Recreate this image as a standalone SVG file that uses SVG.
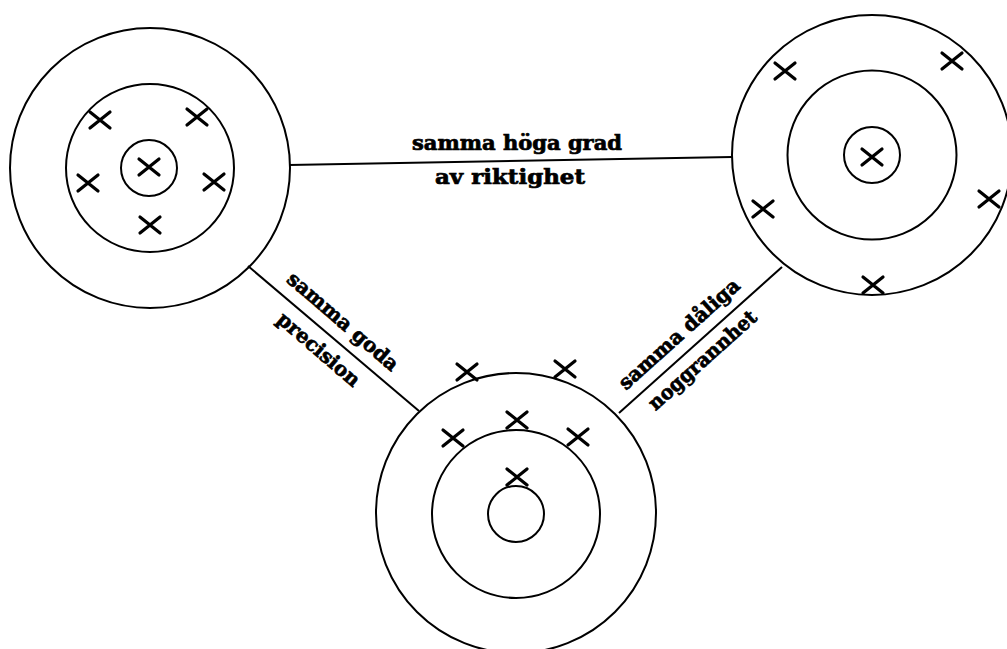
<svg xmlns="http://www.w3.org/2000/svg" xmlns:xlink="http://www.w3.org/1999/xlink" width="1007" height="649" viewBox="0 0 1007 649">
<style>
.ring{fill:none;stroke:#000;stroke-width:2}
.conn{stroke:#000;stroke-width:2;fill:none}
.lbl{font-family:"DejaVu Serif","Liberation Serif",serif;font-weight:bold;font-size:20px;fill:#000;stroke:#000;stroke-width:0.7;text-anchor:middle}
</style>
<defs>
<path id="x" d="M-10,-8 L10,8 M-10,8 L10,-8" stroke="#000" stroke-width="3.2" stroke-linecap="round" fill="none"/>
</defs>
<rect width="1007" height="649" fill="#fff"/>
<g id="connectors">
<line class="conn" x1="289" y1="165" x2="732" y2="157"/>
<line class="conn" x1="248" y1="266" x2="419" y2="411"/>
<line class="conn" x1="619" y1="413" x2="782" y2="267"/>
</g>
<g id="labels">
<text class="lbl" x="517" y="150" textLength="210" lengthAdjust="spacingAndGlyphs">samma höga grad</text>
<text class="lbl" x="510" y="184" textLength="150" lengthAdjust="spacingAndGlyphs">av riktighet</text>
<g transform="translate(330,336.4) rotate(40.7)">
<text class="lbl" x="0" y="-13" textLength="140" lengthAdjust="spacingAndGlyphs">samma goda</text>
<text class="lbl" x="0" y="24" textLength="102" lengthAdjust="spacingAndGlyphs">precision</text>
</g>
<g transform="translate(691.6,348) rotate(-41.9)">
<text class="lbl" x="0" y="-12" textLength="155" lengthAdjust="spacingAndGlyphs">samma dåliga</text>
<text class="lbl" x="0" y="23" textLength="138" lengthAdjust="spacingAndGlyphs">noggrannhet</text>
</g>
</g>
<g id="target-top-left">
<circle class="ring" cx="150" cy="168" r="140"/>
<circle class="ring" cx="150" cy="168" r="84"/>
<circle class="ring" cx="149" cy="168" r="28"/>
<use xlink:href="#x" x="149" y="167"/>
<use xlink:href="#x" x="100" y="120"/>
<use xlink:href="#x" x="197" y="117"/>
<use xlink:href="#x" x="88" y="183"/>
<use xlink:href="#x" x="214" y="182"/>
<use xlink:href="#x" x="150" y="225"/>
</g>
<g id="target-top-right">
<circle class="ring" cx="872" cy="155" r="140"/>
<circle class="ring" cx="872" cy="155" r="84.5"/>
<circle class="ring" cx="872" cy="155" r="28"/>
<use xlink:href="#x" x="872" y="157"/>
<use xlink:href="#x" x="785" y="71"/>
<use xlink:href="#x" x="952" y="61"/>
<use xlink:href="#x" x="763" y="209"/>
<use xlink:href="#x" x="989" y="199"/>
<use xlink:href="#x" x="873" y="285"/>
</g>
<g id="target-bottom">
<circle class="ring" cx="516" cy="513" r="140"/>
<circle class="ring" cx="516" cy="514" r="84"/>
<circle class="ring" cx="516" cy="514" r="28"/>
<use xlink:href="#x" x="467" y="372"/>
<use xlink:href="#x" x="565" y="369"/>
<use xlink:href="#x" x="517" y="420"/>
<use xlink:href="#x" x="453" y="438"/>
<use xlink:href="#x" x="578" y="437"/>
<use xlink:href="#x" x="517" y="477"/>
</g>
</svg>
